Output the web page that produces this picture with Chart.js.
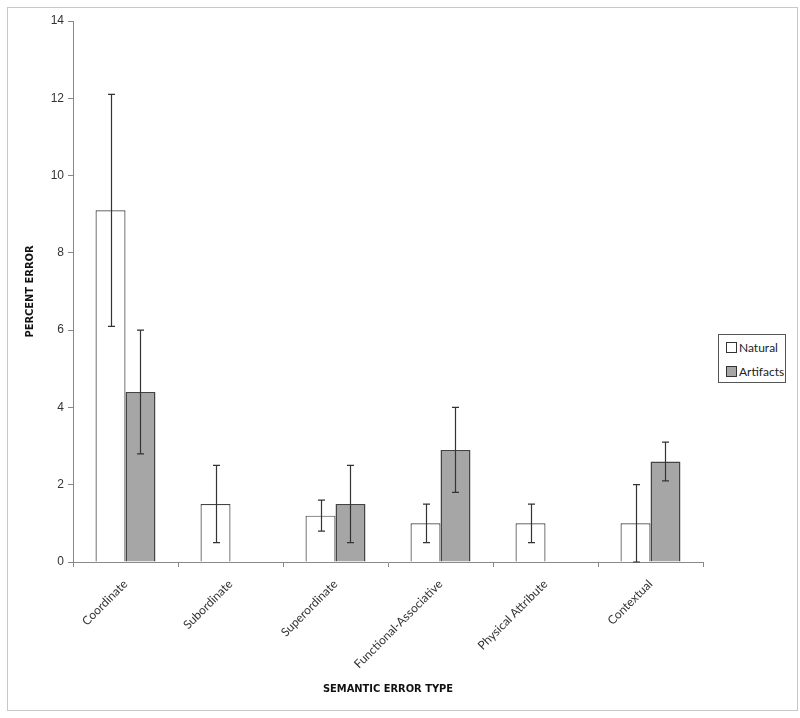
<!DOCTYPE html>
<html>
<head>
<meta charset="utf-8">
<script src="https://cdn.jsdelivr.net/npm/chart.js@4/dist/chart.umd.min.js"></script>
<style>
    body { margin: 0; background: #fff; }
    #wrap { position: relative; width: 800px; height: 718px; }
    #frame { position: absolute; left: 7px; top: 7px; width: 789px; height: 702px; border: 1px solid #c8c8c8; pointer-events: none; }
    canvas { position: absolute; left: 0; top: 0; }
    #legend { position: absolute; left: 718px; top: 334px; width: 66px; height: 47px; border: 1px solid #555; background: #fff; font: 12px Lato, sans-serif; color: #222; }
    .item { position: absolute; left: 7px; height: 14px; line-height: 14px; }
    .swatch { display: inline-block; width: 9px; height: 9px; border: 1px solid #333; margin-right: 2px; vertical-align: -1px; }
</style>
</head>
<body>
<div id="wrap">
    <canvas id="chart" width="800" height="718"></canvas>
    <div id="frame"></div>
    <div id="legend"></div>
</div>
<script>
const categories = ["Coordinate", "Subordinate", "Superordinate", "Functional-Associative", "Physical Attribute", "Contextual"];
const seriesNames = ["Natural", "Artifacts"];

const naturalValues = [9.1, 1.5, 1.2, 1.0, 1.0, 1.0];
const naturalLow = [6.1, 0.5, 0.8, 0.5, 0.5, 0.0];
const naturalHigh = [12.1, 2.5, 1.6, 1.5, 1.5, 2.0];

const artifactValues = [4.4, null, 1.5, 2.9, null, 2.6];
const artifactLow = [2.8, null, 0.5, 1.8, null, 2.1];
const artifactHigh = [6.0, null, 2.5, 4.0, null, 3.1];

const yTicks = [0, 2, 4, 6, 8, 10, 12, 14];

const fills = ["#ffffff", "#a6a6a6"];
const errorLows = [naturalLow, artifactLow];
const errorHighs = [naturalHigh, artifactHigh];

// error bars drawn from the low/high arrays through the y scale
const errorBars = {
    id: "errorBars",
    afterDatasetsDraw(chart) {
        const ctx = chart.ctx;
        const yScale = chart.scales.y;
        ctx.save();
        ctx.strokeStyle = "#333";
        ctx.lineWidth = 1.2;
        chart.data.datasets.forEach((ds, di) => {
            const meta = chart.getDatasetMeta(di);
            meta.data.forEach((bar, i) => {
                const lo = errorLows[di][i];
                const hi = errorHighs[di][i];
                if (lo === null || hi === null) return;
                const x = Math.round(bar.x) + 0.5;
                const yLo = yScale.getPixelForValue(lo);
                const yHi = yScale.getPixelForValue(hi);
                ctx.beginPath();
                ctx.moveTo(x, yHi);
                ctx.lineTo(x, yLo);
                ctx.moveTo(x - 3.5, yHi);
                ctx.lineTo(x + 3.5, yHi);
                ctx.moveTo(x - 3.5, yLo);
                ctx.lineTo(x + 3.5, yLo);
                ctx.stroke();
            });
        });
        ctx.restore();
    }
};

const ctx = document.getElementById("chart").getContext("2d");
new Chart(ctx, {
    type: "bar",
    data: {
        labels: categories,
        datasets: [
            {
                label: seriesNames[0],
                data: naturalValues,
                backgroundColor: fills[0],
                borderColor: "#444",
                borderWidth: 1.2,
                borderSkipped: "bottom",
                barPercentage: 1,
                categoryPercentage: 0.571,
            },
            {
                label: seriesNames[1],
                data: artifactValues,
                backgroundColor: fills[1],
                borderColor: "#444",
                borderWidth: 1.5,
                borderSkipped: "bottom",
                barPercentage: 1,
                categoryPercentage: 0.571,
            },
        ],
    },
    options: {
        responsive: false,
        animation: false,
        layout: {
            padding: { left: 18, right: 97, top: 21, bottom: 20 }
        },
        scales: {
            x: {
                grid: {
                    display: true,
                    offset: true,
                    drawOnChartArea: false,
                    tickLength: 5,
                    color: "#888",
                },
                border: { color: "#888", width: 1 },
                ticks: {
                    minRotation: 45,
                    maxRotation: 45,
                    padding: 10,
                    color: "#333",
                    font: { family: "Lato", size: 12 },
                },
                title: {
                    display: true,
                    text: "SEMANTIC ERROR TYPE",
                    color: "#111",
                    font: { family: "DejaVu Sans Condensed", size: 11, weight: "bold" },
                    padding: { top: 0, bottom: 2 },
                },
                afterFit: (scale) => { scale.height = 136; },
            },
            y: {
                min: 0,
                max: 14,
                afterBuildTicks: (scale) => { scale.ticks = yTicks.map((v) => ({ value: v })); },
                grid: {
                    display: true,
                    drawOnChartArea: false,
                    tickLength: 5,
                    color: "#888",
                },
                border: { color: "#888", width: 1 },
                ticks: {
                    padding: 4,
                    color: "#333",
                    font: { family: "Liberation Sans", size: 12 },
                },
                title: {
                    display: true,
                    text: "PERCENT ERROR",
                    color: "#111",
                    font: { family: "DejaVu Sans Condensed", size: 11, weight: "bold" },
                    padding: { top: 6, bottom: 0 },
                },
                afterFit: (scale) => { scale.width = 55; },
            },
        },
        plugins: {
            legend: { display: false },
            tooltip: { enabled: false },
        },
    },
    plugins: [errorBars],
});

// legend built from the series names
const legend = document.getElementById("legend");
seriesNames.forEach((name, i) => {
    const item = document.createElement("div");
    item.className = "item";
    item.style.top = (6 + i * 24) + "px";
    item.innerHTML = `<span class="swatch" style="background:${fills[i]}"></span>${name}`;
    legend.appendChild(item);
});
</script>
</body>
</html>
